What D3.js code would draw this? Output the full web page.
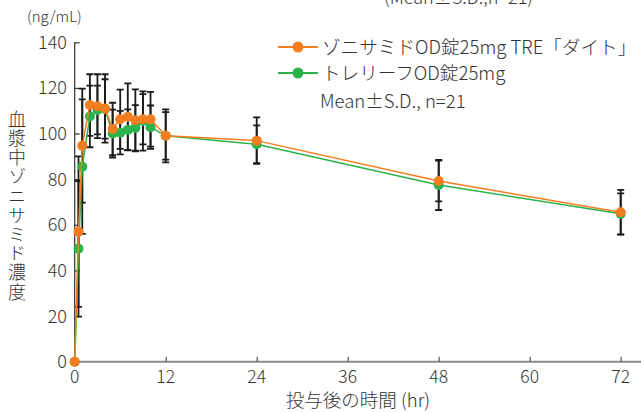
<!DOCTYPE html>
<html><head><meta charset="utf-8">
<script src="https://cdn.jsdelivr.net/npm/d3@7"></script>
<style>
html,body{margin:0;padding:0;background:#fff;}
svg{display:block;font-family:"Noto Sans CJK JP","Noto Sans",sans-serif;font-weight:300;}
</style></head>
<body>
<svg id="chart" width="641" height="412"></svg>
<script>
const times = [0,0.5,1,2,3,4,5,6,7,8,9,10,12,24,48,72];
const treMean = [0,57,94.7,112.5,112,111,102,106.3,107.4,105.8,106.3,106.3,99,96.9,79.2,65.5];
const treSD   = [0,33,25,13.5,14,15,11.5,13,14.6,13.6,11,12,11.6,10.2,8.9,9.8];
const refMean = [0,49.5,85.5,107.5,110.3,110.8,100,100.4,101.6,102.5,105.5,102.8,99,95.3,77.5,64.8];
const refSD   = [0,29.7,29.5,13.5,10.7,13,10.5,9.5,9,10,13,9.5,10.4,8.3,11,9];
const xTicks = [0,12,24,36,48,60,72];
const yTicks = [0,20,40,60,80,100,120,140];
const seriesNames = ["ゾニサミドOD錠25mg TRE「ダイト」","トレリーフOD錠25mg"];
const seriesColors = ["#F47D20","#2BB24C"];

const svg = d3.select("#chart");
const x = d3.scaleLinear().domain([0,72]).range([74.7,620.7]);
const y = d3.scaleLinear().domain([0,140]).range([361.7,42.3]);
const txt = "#333";

// axes
const yAxis = svg.append("g").attr("transform","translate(74.7,0)")
  .call(d3.axisRight(y).tickValues(yTicks).tickSize(5).tickFormat(""));
yAxis.select(".domain").attr("stroke","#333").attr("stroke-width",1.2).attr("d","M0,42.3V361.7");
yAxis.selectAll(".tick line").attr("stroke","#333").attr("stroke-width",1.2);
svg.append("g").selectAll("text").data(yTicks).join("text")
  .attr("x",67).attr("y",d=>y(d)).attr("dy","0.36em").attr("text-anchor","end")
  .attr("font-size",18).attr("fill",txt).text(d=>d);

const xAxis = svg.append("g").attr("transform","translate(0,361.7)")
  .call(d3.axisTop(x).tickValues(xTicks).tickSize(5).tickFormat(""));
xAxis.select(".domain").attr("stroke","#8a8a8a").attr("stroke-width",2).attr("d","M74.7,0H641");
xAxis.selectAll(".tick line").attr("stroke","#555").attr("stroke-width",1.2);
svg.append("g").selectAll("text").data(xTicks).join("text")
  .attr("x",d=>x(d)).attr("y",383).attr("text-anchor","middle")
  .attr("font-size",17.5).attr("fill",txt).text(d=>d);

// titles
svg.append("text").attr("x",27).attr("y",22).attr("font-size",15).attr("fill",txt).text("(ng/mL)");
svg.append("text").attr("x",384).attr("y",4).attr("font-size",18).attr("fill",txt).text("(Mean±S.D.,n=21)");
svg.append("text").attr("x",358).attr("y",407).attr("text-anchor","middle")
  .attr("font-size",18.5).attr("fill",txt).text("投与後の時間 (hr)");
svg.append("text").attr("x",17).attr("y",110)
  .attr("writing-mode","vertical-rl").style("text-orientation","upright")
  .attr("font-size",18).attr("letter-spacing",1.2).attr("fill",txt).text("血漿中ゾニサミド濃度");

// error bars
const series = [
  {mean:treMean, sd:treSD, color:seriesColors[0]},
  {mean:refMean, sd:refSD, color:seriesColors[1]}
];
const eb = svg.append("g").attr("stroke","#1a1a1a").attr("stroke-width",1.8).attr("fill","none");
series.forEach(s=>{
  times.forEach((t,i)=>{
    if(!s.sd[i]) return;
    const cx=x(t), y1=y(s.mean[i]+s.sd[i]), y0=y(s.mean[i]-s.sd[i]);
    eb.append("path").attr("d",`M${cx},${y1}V${y0}M${cx-3.5},${y1}H${cx+3.5}M${cx-3.5},${y0}H${cx+3.5}`);
  });
});

// lines + markers (green under orange)
const line = d3.line().x(d=>x(d[0])).y(d=>y(d[1]));
[1,0].forEach(k=>{
  const s = series[k];
  const pts = times.map((t,i)=>[t,s.mean[i]]);
  svg.append("path").datum(pts).attr("d",line).attr("fill","none")
    .attr("stroke",s.color).attr("stroke-width",1.5);
  svg.append("g").selectAll("circle").data(pts).join("circle")
    .attr("cx",d=>x(d[0])).attr("cy",d=>y(d[1])).attr("r",5).attr("fill",s.color);
});

// legend
const lg = svg.append("g");
[47,73].forEach((ly,k)=>{
  lg.append("line").attr("x1",278).attr("x2",318).attr("y1",ly).attr("y2",ly)
    .attr("stroke",seriesColors[k]).attr("stroke-width",2);
  lg.append("circle").attr("cx",298).attr("cy",ly).attr("r",5.5).attr("fill",seriesColors[k]);
  lg.append("text").attr("x",322).attr("y",ly).attr("dy","0.36em")
    .attr("font-size",18.6).attr("fill",txt).text(seriesNames[k]);
});
lg.append("text").attr("x",320).attr("y",101).attr("dy","0.36em")
  .attr("font-size",18.5).attr("fill",txt).text("Mean±S.D., n=21");
</script>
</body></html>
